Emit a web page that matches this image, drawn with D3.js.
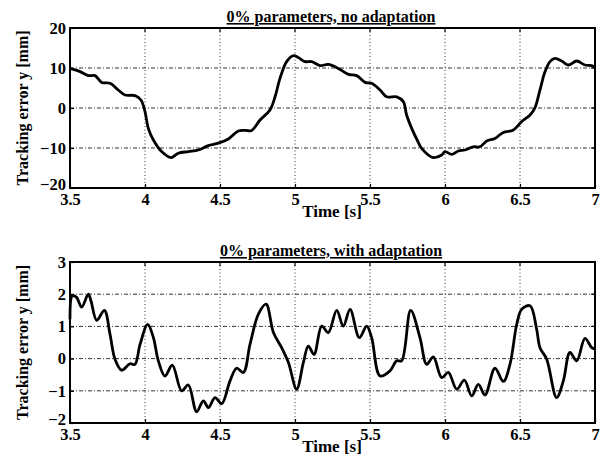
<!DOCTYPE html>
<html>
<head>
<meta charset="utf-8">
<script src="https://cdn.jsdelivr.net/npm/d3@7"></script>
<style>
body { margin: 0; background: #fff; }
svg text { font-family: "Liberation Serif", "Times New Roman", serif; fill: #000; }
</style>
</head>
<body>
<div id="chart"></div>
<script>
// top panel: 0% parameters, no adaptation
var timeTop = [3.5, 3.567, 3.622, 3.667, 3.711, 3.767, 3.822, 3.867, 3.933, 3.973, 4.0, 4.022, 4.056, 4.111, 4.173,
  4.222, 4.289, 4.356, 4.422, 4.489, 4.556, 4.622, 4.667, 4.711, 4.767, 4.833, 4.867, 4.9, 4.944, 4.989,
  5.022, 5.067, 5.111, 5.167, 5.222, 5.289, 5.356, 5.411, 5.467, 5.511, 5.567, 5.611, 5.678, 5.722, 5.744,
  5.778, 5.822, 5.844, 5.922, 5.978, 6.0, 6.044, 6.089, 6.133, 6.189, 6.233, 6.278, 6.333, 6.389, 6.456,
  6.511, 6.567, 6.6, 6.633, 6.667, 6.7, 6.733, 6.778, 6.822, 6.878, 6.933, 6.978, 7.0];
var errTop = [9.9, 9.1, 8.1, 8.1, 6.4, 6.2, 4.5, 3.25, 3.1, 2.0, -0.9, -5.1, -8.0, -10.9, -12.4,
  -11.3, -10.9, -10.5, -9.4, -8.8, -7.75, -5.75, -5.6, -5.6, -3.0, -0.5, 2.8, 7.4, 11.6, 13.1,
  12.6, 11.6, 11.6, 10.6, 10.9, 9.9, 8.4, 8.1, 6.4, 6.2, 4.5, 2.8, 2.8, 1.6, -1.75,
  -5.1, -8.6, -10.1, -12.4, -11.75, -10.9, -11.6, -10.75, -10.5, -9.7, -9.7, -8.25, -7.6, -6.1, -5.5,
  -3.4, -1.75, 0.1, 4.5, 9.1, 11.6, 12.4, 11.75, 10.75, 11.75, 10.75, 10.6, 10.1];

// bottom panel: 0% parameters, with adaptation
var timeBot = [3.5, 3.516, 3.544, 3.578, 3.622, 3.64, 3.678, 3.729, 3.767, 3.8, 3.844, 3.9, 3.933, 3.967, 4.018,
  4.056, 4.089, 4.133, 4.182, 4.244, 4.289, 4.344, 4.389, 4.422, 4.467, 4.511, 4.567, 4.611, 4.656, 4.7,
  4.756, 4.807, 4.856, 4.911, 4.956, 5.011, 5.056, 5.089, 5.127, 5.178, 5.222, 5.278, 5.322, 5.367, 5.429,
  5.478, 5.511, 5.567, 5.633, 5.678, 5.711, 5.771, 5.833, 5.878, 5.922, 5.978, 6.022, 6.078, 6.129, 6.178,
  6.222, 6.267, 6.333, 6.389, 6.433, 6.478, 6.511, 6.567, 6.611, 6.633, 6.678, 6.744, 6.789, 6.833, 6.878,
  6.933, 6.978, 7.0];
var errBot = [1.22, 1.95, 1.9, 1.6, 2.0, 1.79, 1.19, 1.5, 0.75, -0.02, -0.36, -0.16, -0.18, 0.44, 1.06,
  0.65, -0.07, -0.54, -0.2, -1.0, -0.82, -1.65, -1.31, -1.52, -1.21, -1.4, -0.69, -0.3, -0.43, 0.44,
  1.38, 1.69, 0.81, 0.34, -0.12, -0.95, -0.12, 0.39, 0.13, 1.01, 0.81, 1.5, 1.01, 1.53, 0.65,
  1.01, 0.65, -0.54, -0.38, -0.07, -0.07, 1.5, 0.65, -0.18, 0.05, -0.59, -0.43, -0.95, -0.67, -1.16,
  -0.8, -1.13, -0.3, -0.71, -0.18, 1.06, 1.53, 1.64, 0.91, 0.34, -0.02, -1.21, -0.69, 0.19, -0.07,
  0.63, 0.34, 0.3];

var xTicks = [3.5, 4, 4.5, 5, 5.5, 6, 6.5, 7];
var yTicksTop = [-20, -10, 0, 10, 20];
var yTicksBot = [-2, -1, 0, 1, 2, 3];
var titles = ["0% parameters, no adaptation", "0% parameters, with adaptation"];
var xLabel = "Time [s]";
var yLabel = "Tracking error y [mm]";

var svg = d3.select("#chart").append("svg")
    .attr("width", 604)
    .attr("height", 465);

var panels = [
  {t: timeTop, v: errTop, yd: [-20, 20], yt: yTicksTop, top: 28, bottom: 188, title: titles[0]},
  {t: timeBot, v: errBot, yd: [-2, 3], yt: yTicksBot, top: 262, bottom: 423, title: titles[1]}
];
var left = 70, right = 595;

panels.forEach(function(p) {
  var x = d3.scaleLinear().domain([3.5, 7]).range([left, right]);
  var y = d3.scaleLinear().domain(p.yd).range([p.bottom, p.top]);
  var g = svg.append("g");

  // grid
  g.selectAll("line.gx").data(xTicks.slice(1, -1)).enter().append("line")
    .attr("x1", function(d){ return x(d); }).attr("x2", function(d){ return x(d); })
    .attr("y1", p.top).attr("y2", p.bottom)
    .attr("stroke", "#000").attr("stroke-width", 0.8)
    .attr("stroke-dasharray", "1,2.5");
  g.selectAll("line.gy").data(p.yt.slice(1, -1)).enter().append("line")
    .attr("y1", function(d){ return y(d); }).attr("y2", function(d){ return y(d); })
    .attr("x1", left).attr("x2", right)
    .attr("stroke", "#000").attr("stroke-width", 0.8)
    .attr("stroke-dasharray", "4,2,1,2");

  // axes for tick labels
  var ax = g.append("g").attr("transform", "translate(0," + p.bottom + ")")
    .call(d3.axisBottom(x).tickValues(xTicks).tickSize(-4).tickPadding(6).tickFormat(d3.format("")));
  var ay = g.append("g").attr("transform", "translate(" + left + ",0)")
    .call(d3.axisLeft(y).tickValues(p.yt).tickSize(-4).tickPadding(4).tickFormat(d3.format("")));
  [ax, ay].forEach(function(a) {
    a.select(".domain").remove();
    a.selectAll(".tick line").attr("stroke", "#000").attr("stroke-width", 1.2);
    a.selectAll("text").attr("font-size", 16.5).attr("font-weight", "bold").attr("fill", "#000");
  });
  ax.selectAll("text").attr("dy", "0.64em");
  // lowest y label sits a bit higher so it clears the first x label
  ay.selectAll("text").filter(function(d){ return d === p.yd[0]; }).attr("dy", "0.1em");

  // top/right ticks
  g.selectAll("line.tt").data(xTicks).enter().append("line")
    .attr("x1", function(d){ return x(d); }).attr("x2", function(d){ return x(d); })
    .attr("y1", p.top).attr("y2", p.top + 4).attr("stroke", "#000").attr("stroke-width", 1.2);
  g.selectAll("line.rt").data(p.yt).enter().append("line")
    .attr("y1", function(d){ return y(d); }).attr("y2", function(d){ return y(d); })
    .attr("x1", right - 4).attr("x2", right).attr("stroke", "#000").attr("stroke-width", 1.2);

  // frame
  g.append("rect").attr("x", left).attr("y", p.top)
    .attr("width", right - left).attr("height", p.bottom - p.top)
    .attr("fill", "none").attr("stroke", "#000").attr("stroke-width", 2);

  // curve
  var line = d3.line()
    .x(function(d, i){ return x(p.t[i]); })
    .y(function(d){ return y(d); })
    .curve(d3.curveCatmullRom.alpha(0.5));
  g.append("path").datum(p.v).attr("d", line)
    .attr("fill", "none").attr("stroke", "#000").attr("stroke-width", 2.8)
    .attr("stroke-linejoin", "round");

  // title
  g.append("text").attr("x", 331).attr("y", p.top - 6)
    .attr("text-anchor", "middle").attr("font-size", 16).attr("font-weight", "bold")
    .attr("text-decoration", "underline").text(p.title);

  // labels
  g.append("text").attr("x", 332).attr("y", p.bottom + 29)
    .attr("text-anchor", "middle").attr("font-size", 17).attr("font-weight", "bold").text(xLabel);
  g.append("text")
    .attr("transform", "translate(28," + ((p.top + p.bottom) / 2) + ") rotate(-90)")
    .attr("text-anchor", "middle").attr("font-size", 16).attr("font-weight", "bold").text(yLabel);
});
</script>
</body>
</html>
